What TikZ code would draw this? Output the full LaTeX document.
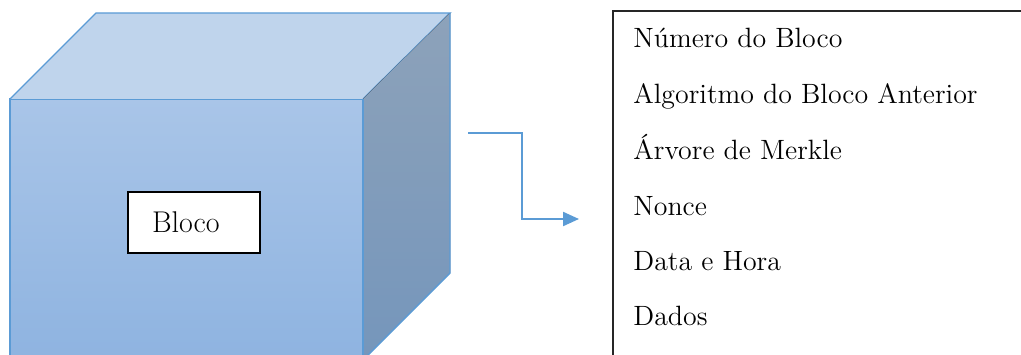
\documentclass[tikz,border=0pt]{standalone}
\usepackage{fontspec}
\usetikzlibrary{arrows.meta}
\definecolor{edgeblue}{HTML}{5B9BD5}
\definecolor{topface}{HTML}{BFD4EC}
\definecolor{fronttop}{HTML}{A9C5E8}
\definecolor{frontbot}{HTML}{8EB3E0}
\definecolor{sidetop}{HTML}{8DA2BA}
\definecolor{sidebot}{HTML}{7596BB}
\tikzset{
  cubeedge/.style={draw=edgeblue, line width=0.7pt, line join=miter},
  itemtext/.style={anchor=base west, inner sep=0pt, font=\fontsize{13.95}{16}\selectfont},
  connector/.style={draw=edgeblue, line width=1.1pt, -{Triangle[length=8pt,width=7pt]}},
}
\begin{document}
\begin{tikzpicture}[x=0.5pt,y=0.5pt]
\useasboundingbox (0,0) rectangle (1021,354);
% cube
\fill[top color=fronttop, bottom color=frontbot] (10,-10) rectangle (363,255);
\draw[cubeedge] (10,-10) -- (10,255) -- (363,255) -- (363,-10);
\fill[topface] (10,255) -- (96,341) -- (450,341) -- (363,255) -- cycle;
\draw[cubeedge] (10,255) -- (96,341) -- (450,341) -- (363,255);
\fill[top color=sidetop, bottom color=sidebot] (363,255) -- (450,341) -- (450,81) -- (363,-6) -- cycle;
\draw[cubeedge] (450,341) -- (450,81) -- (363,-6);
\draw[cubeedge] (363,255) -- (363,-10);
% Bloco label
\node[draw=black, fill=white, line width=1pt, minimum height=30.5pt, text width=54pt, inner xsep=6pt, align=left,
      font=\fontsize{15}{17}\selectfont] (bloco) at (194,131.5) {\hspace*{6pt}Bloco};
% list box
\draw[line width=1pt, draw=black!85] (1021,343) -- (613,343) -- (613,-5);
\node[itemtext] (l1) at (633,306) {Número do Bloco};
\node[itemtext] (l2) at (633,250) {Algoritmo do Bloco Anterior};
\node[itemtext] (l3) at (633,195) {Árvore de Merkle};
\node[itemtext] (l4) at (633,139) {Nonce};
\node[itemtext] (l5) at (633,84) {Data e Hora};
\node[itemtext] (l6) at (633,29) {Dados};
% connector
\coordinate (cstart) at (468,221);
\coordinate (cend) at (579,135);
\draw[connector] (cstart) -- (cstart -| 522,0) -- (522,0 |- cend) -- (cend);
\end{tikzpicture}
\end{document}
